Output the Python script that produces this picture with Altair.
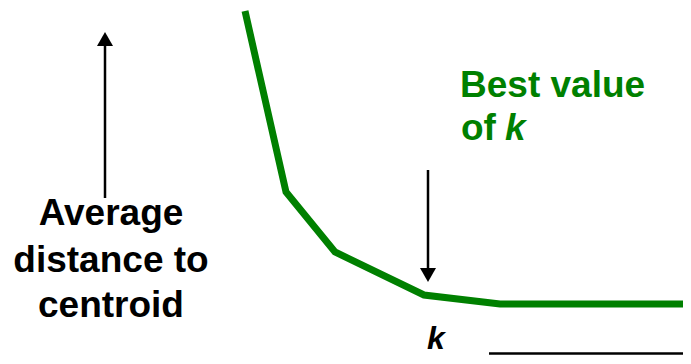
import altair as alt
import pandas as pd

# Elbow curve (chart units: x = k position, y = average distance)
curve_x = [237, 278, 327, 416, 492, 675]
curve_y = [345, 164, 104, 61, 52, 52]

# Axis-like arrows (shafts) and heads
shaft_x = [97, 420, 481]
shaft_x2 = [97, 420, 678]
shaft_y = [158, 186, 2.5]
shaft_y2 = [314, 80, 2.5]
head_x = [97, 420, 682]
head_y = [317, 81, 2.5]
head_shape = ["triangle-up", "triangle-down", "triangle-right"]

# Labels
ylab_lines = ["Average", "distance to", "centroid"]
ylab_x = [103, 103, 103]
ylab_y = [131, 84.5, 39]

best_lines = ["Best value", "of"]
best_x = [452, 453]
best_y = [259, 216]

XW, YH = 675, 348
GREEN = "#008000"
FONT = "Liberation Sans"

xs = alt.Scale(domain=[0, XW], nice=False, zero=False)
ys = alt.Scale(domain=[0, YH], nice=False, zero=False)

curve = alt.Chart(pd.DataFrame({"x": curve_x, "y": curve_y, "o": range(len(curve_x))})).mark_line(
    color=GREEN, strokeWidth=7, strokeJoin="miter", strokeCap="butt"
).encode(
    x=alt.X("x:Q", scale=xs, axis=None),
    y=alt.Y("y:Q", scale=ys, axis=None),
    order="o:Q",
)

shafts = alt.Chart(pd.DataFrame({"x": shaft_x, "x2": shaft_x2, "y": shaft_y, "y2": shaft_y2})).mark_rule(
    color="black", strokeWidth=2.5
).encode(x=alt.X("x:Q", scale=xs, axis=None), x2="x2:Q",
         y=alt.Y("y:Q", scale=ys, axis=None), y2="y2:Q")

heads = alt.Chart(pd.DataFrame({"x": head_x, "y": head_y, "s": head_shape})).mark_point(
    filled=True, color="black", size=256, opacity=1
).encode(
    x=alt.X("x:Q", scale=xs, axis=None),
    y=alt.Y("y:Q", scale=ys, axis=None),
    shape=alt.Shape("s:N", scale=alt.Scale(domain=head_shape, range=head_shape), legend=None),
)

ylab = alt.Chart(pd.DataFrame({"x": ylab_x, "y": ylab_y, "t": ylab_lines})).mark_text(
    font=FONT, fontSize=37, fontWeight="bold", color="black", align="center", baseline="alphabetic"
).encode(x=alt.X("x:Q", scale=xs, axis=None), y=alt.Y("y:Q", scale=ys, axis=None), text="t:N")

best = alt.Chart(pd.DataFrame({"x": best_x, "y": best_y, "t": best_lines})).mark_text(
    font=FONT, fontSize=37, fontWeight="bold", color=GREEN, align="left", baseline="alphabetic"
).encode(x=alt.X("x:Q", scale=xs, axis=None), y=alt.Y("y:Q", scale=ys, axis=None), text="t:N")

best_k = alt.Chart(pd.DataFrame({"x": [497], "y": [216], "t": ["k"]})).mark_text(
    font=FONT, fontSize=37, fontWeight="bold", fontStyle="italic", color=GREEN, align="left", baseline="alphabetic"
).encode(x=alt.X("x:Q", scale=xs, axis=None), y=alt.Y("y:Q", scale=ys, axis=None), text="t:N")

xlab = alt.Chart(pd.DataFrame({"x": [419], "y": [7], "t": ["k"]})).mark_text(
    font=FONT, fontSize=32, fontWeight="bold", fontStyle="italic", color="black", align="left", baseline="alphabetic"
).encode(x=alt.X("x:Q", scale=xs, axis=None), y=alt.Y("y:Q", scale=ys, axis=None), text="t:N")

chart = alt.layer(curve, shafts, heads, ylab, best, best_k, xlab).properties(
    width=XW, height=YH, padding=0, autosize=alt.AutoSizeParams(type="none"),
    background="white",
).configure_view(stroke=None)

chart.save("out.html", embed_options={"renderer": "svg", "actions": False})
